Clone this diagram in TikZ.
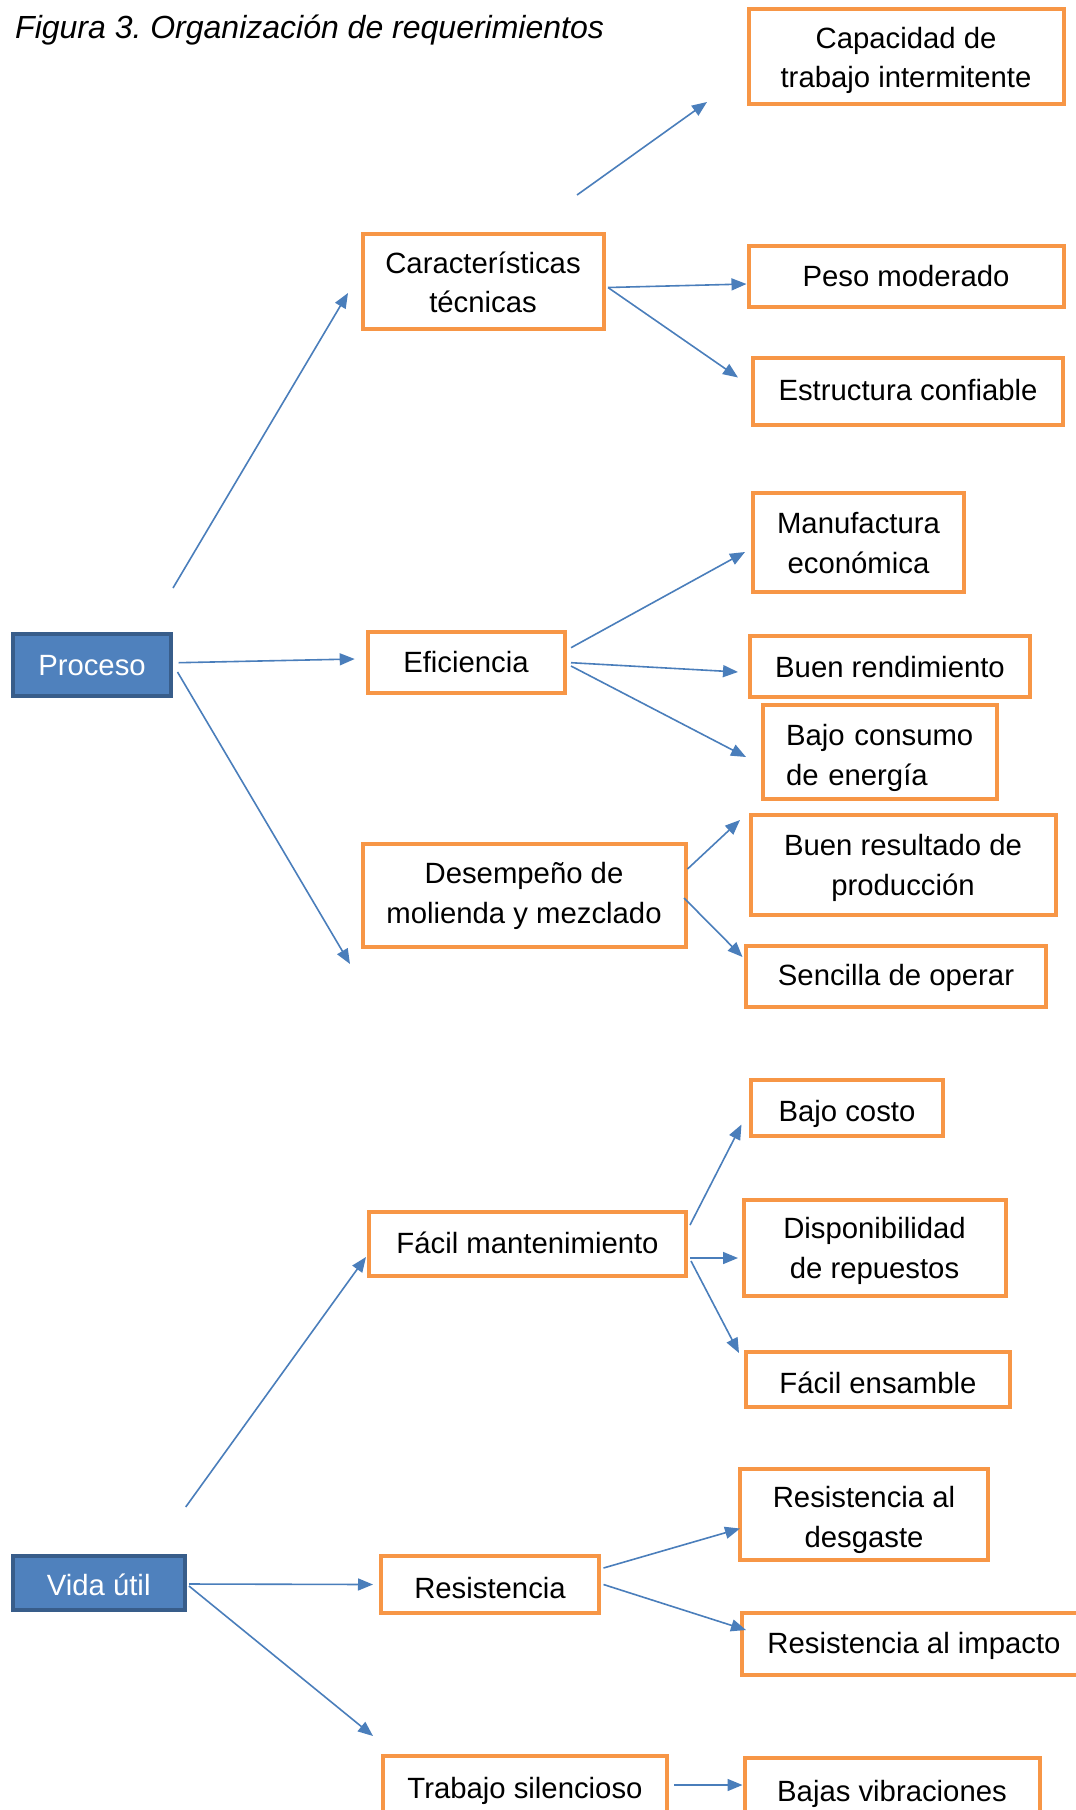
\documentclass[tikz,border=0pt]{standalone}
\usepackage{fontspec}
\setmainfont{Liberation Sans}
\usetikzlibrary{arrows.meta}
\definecolor{boxor}{HTML}{F79646}
\definecolor{arrbl}{HTML}{4A7EBB}
\definecolor{mainfill}{HTML}{4F81BD}
\definecolor{mainline}{HTML}{385D8A}
\frenchspacing
% #1 name, #2 style, #3 x, #4 y, #5 width, #6 height, #7 text shift down, #8 text options, #9 text
\newcommand\reqbox[9]{%
  \node[#2,minimum width=#5,minimum height=#6] (#1) at (#3,#4) {};
  \node[boxtext,#8] (#1-t) at ([yshift=-#7]#1.center) {#9};}
\begin{document}
\begin{tikzpicture}[x=1pt,y=-1pt,
  box/.style={draw=boxor,line width=4pt,inner sep=0pt},
  mainbox/.style={draw=mainline,fill=mainfill,line width=4pt,inner sep=0pt},
  boxtext/.style={inner sep=0pt,align=center,font=\fontsize{29.3}{39.5}\selectfont},
  arr/.style={draw=arrbl,line width=1.6pt,-{Triangle[length=15pt,width=12pt]}}]
\useasboundingbox (0,0) rectangle (1076,1810);
\fill[white] (0,0) rectangle (1076,1810);

\node[anchor=west,inner sep=0pt,font=\fontsize{32}{38}\selectfont\itshape] (title) at (15,30)
  {Figura 3. Organización de requerimientos};

\reqbox{cap}{box}{906}{56.5}{315}{95}{4}{}{Capacidad de\\trabajo intermitente}
\reqbox{car}{box}{483}{281.5}{241}{95}{1}{}{Características\\técnicas}
\reqbox{peso}{box}{906}{276.5}{315}{61}{0}{}{Peso moderado}
\reqbox{est}{box}{908}{391.5}{310}{67}{-1}{}{Estructura confiable}
\reqbox{man}{box}{858.5}{542.5}{211}{99}{0.5}{}{Manufactura\\económica}
\reqbox{proc}{mainbox}{92}{665}{158}{62}{1}{text=white}{Proceso}
\reqbox{efi}{box}{466}{662}{197}{61}{0}{}{Eficiencia}
\reqbox{rend}{box}{890}{666.5}{280}{61}{1}{}{Buen rendimiento}
\reqbox{baj}{box}{880}{752}{234}{94}{6}{text width=188,align=left}{Bajo consumo\\de energía}
\reqbox{des}{box}{524}{895.5}{323}{103}{0.5}{}{Desempeño de\\molienda y mezclado}
\reqbox{res}{box}{903}{865}{305}{100}{3}{}{Buen resultado de\\producción}
\reqbox{sen}{box}{896}{976}{300}{61}{2.3}{}{Sencilla de operar}
\reqbox{cos}{box}{847}{1108}{192}{56}{6}{}{Bajo costo}
\reqbox{fac}{box}{527.5}{1244}{317}{64}{-1}{}{Fácil mantenimiento}
\reqbox{dis}{box}{874.5}{1247.5}{262}{96}{3.5}{}{Disponibilidad\\de repuestos}
\reqbox{ens}{box}{878}{1379.5}{264}{55}{3.5}{}{Fácil ensamble}
\reqbox{desg}{box}{864}{1514}{248}{91}{6}{}{Resistencia al\\desgaste}
\reqbox{vida}{mainbox}{98.7}{1583}{172}{54}{2.3}{text=white}{Vida útil}
\reqbox{resi}{box}{490}{1584.5}{218}{57}{3.5}{}{Resistencia}
\reqbox{imp}{box}{914}{1644}{344}{62}{2.3}{}{Resistencia al impacto}
\reqbox{tra}{box}{525}{1787}{284}{62}{3.5}{}{Trabajo silencioso}
\reqbox{vib}{box}{892}{1790}{295}{64}{3.5}{}{Bajas vibraciones}

\draw[arr] ([xshift=94,yshift=37]car.north) -- ([xshift=-39.5,yshift=-45.5]cap.west);
\draw[arr] ([yshift=44]proc.north east) -- ([xshift=-12.5,yshift=-11.5]car.west);
\draw[arr] ([xshift=2.5,yshift=-6]car.east) -- ([yshift=-7.5]peso.west);
\draw[arr] ([xshift=2.5,yshift=-6]car.east) -- ([xshift=-13,yshift=14]est.west);
\draw[arr] ([xshift=5.6,yshift=2.3]proc.east) -- ([xshift=-10.8,yshift=3]efi.west);
\draw[arr] ([xshift=4.5,yshift=-7]proc.east) -- ([xshift=-10.5,yshift=-68.5]des.west);
\draw[arr] ([xshift=4.5,yshift=14.3]efi.east) -- ([xshift=-6,yshift=-9.5]man.west);
\draw[arr] ([xshift=4.5,yshift=-0.7]efi.east) -- ([xshift=-10,yshift=-5.5]rend.west);
\draw[arr] ([xshift=4.5,yshift=-4]efi.east) -- ([xshift=-15,yshift=-5]baj.west);
\draw[arr] ([yshift=26.5]des.east) -- ([xshift=-8.5,yshift=45]res.west);
\draw[arr] ([xshift=-3.5,yshift=-2.5]des.east) -- ([xshift=-1.5,yshift=19]sen.west);
\draw[arr] ([xshift=2,yshift=19]fac.east) -- ([xshift=-7.5,yshift=-16.5]cos.west);
\draw[arr] ([xshift=2,yshift=-14]fac.east) -- ([xshift=-3.5,yshift=-10.5]dis.west);
\draw[arr] ([xshift=3,yshift=-17]fac.east) -- ([xshift=-5,yshift=26.5]ens.west);
\draw[arr] ([xshift=-1,yshift=47]vida.north east) -- ([xshift=-1,yshift=-13]fac.west);
\draw[arr] ([xshift=2.3,yshift=-1]vida.east) -- ([xshift=-6]resi.west);
\draw[arr] ([xshift=2.3,yshift=-3]vida.east) -- ([xshift=-8,yshift=51]tra.west);
\draw[arr] ([xshift=2.5,yshift=16.5]resi.east) -- ([xshift=2,yshift=-14.5]desg.west);
\draw[arr] ([xshift=2.5]resi.east) -- ([xshift=6,yshift=14]imp.west);
\draw[arr] ([xshift=5,yshift=2]tra.east) -- ([yshift=5]vib.west);
\end{tikzpicture}
\end{document}
